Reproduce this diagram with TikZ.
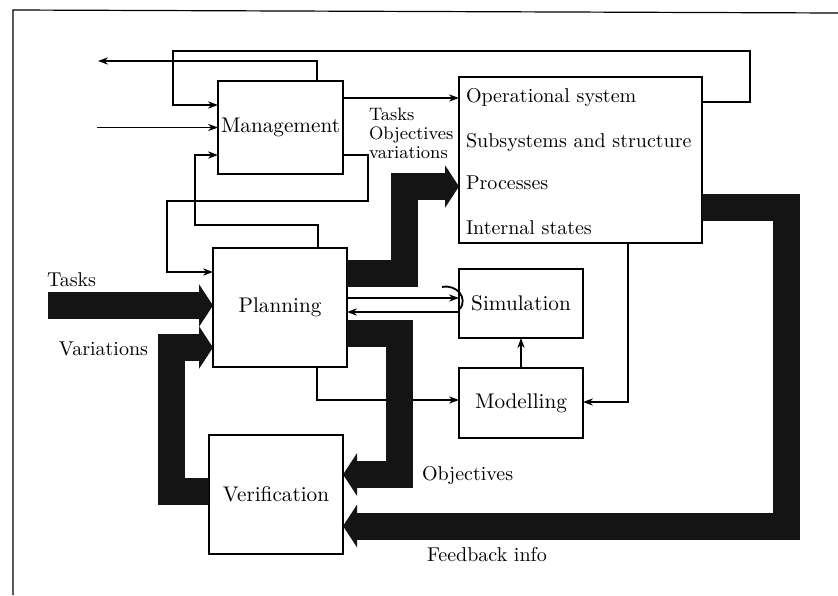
\documentclass[tikz,border=0pt]{standalone}
\usetikzlibrary{arrows.meta,calc}
\tikzset{
  box/.style={draw, line width=0.6pt, inner sep=0pt, outer sep=0pt,
    font=\fontsize{10.6}{12.7}\selectfont},
  wire/.style={line width=0.6pt},
  arr/.style={wire, -{Stealth[length=5pt,width=3.6pt]}},
  fatarrow/.style={line width=13.5pt, draw=black!92, line join=miter,
    -{Triangle[length=7pt,width=21pt]}},
  lbl/.style={inner sep=0pt, outer sep=0pt},
}
\begin{document}
\begin{tikzpicture}[x=0.5pt,y=-0.5pt]
\useasboundingbox (0,0) rectangle (838,595);
% frame of the page
\draw[wire] (13,595) -- (13,10) -- (838,13);

% blocks
\node[box, minimum width=62.5pt, minimum height=46.5pt] (mgmt) at (280.5,127.5) {Management};
\node[box, minimum width=67pt, minimum height=59.5pt] (plan) at (280,307.5) {Planning};
\node[box, minimum width=67pt, minimum height=59.5pt] (verif) at (276,494.5) {Verification};
\node[box, minimum width=121.5pt, minimum height=83pt] (ops) at (580.5,160) {};
\node[box, minimum width=62pt, minimum height=34.5pt] (sim) at (521,303.5) {Simulation};
\node[box, minimum width=62pt, minimum height=35pt] (model) at (521,403) {Modelling};

\node[lbl, anchor=west] (ops1) at ($(ops.north west)+(7,20)$) {Operational system};
\node[lbl, anchor=west] (ops2) at ($(ops.north west)+(7,65)$) {Subsystems and structure};
\node[lbl, anchor=west] (ops3) at ($(ops.north west)+(7,106)$) {Processes};
\node[lbl, anchor=west] (ops4) at ($(ops.north west)+(7,151)$) {Internal states};

% free ends
\coordinate (mgmtOut) at (98,61);
\coordinate (mgmtIn) at (97,127.5);
\coordinate (topL) at (173,51);
\coordinate (loopA) at (167,201);
\coordinate (loopB) at (195,225);
\coordinate (tasksIn) at (48,305.5);
\coordinate (hookA) at (442,287);
\coordinate (hookB) at (460,309);

% thin connectors
\draw[arr] ($(ops.east)+(0,-58)$) -- ++(48,0) |- (topL) |- ($(mgmt.west)+(0,-22.5)$);
\draw[arr] ($(mgmt.north)+(36.5,0)$) |- (mgmtOut);
\draw[arr] (mgmtIn) -- (mgmt.west);
\draw[arr] ($(mgmt.east)+(0,27.5)$) -- ++(25,0) |- (loopA) |- ($(plan.west)+(0,-35.5)$);
\draw[arr] ($(plan.north)+(38,0)$) |- (loopB) |- ($(mgmt.west)+(0,27.5)$);
\draw[arr] ($(mgmt.east)+(0,-29.5)$) -- ($(ops.west)+(0,-62)$);
\draw[arr] ($(plan.east)+(0,-9.5)$) -- ($(sim.west)+(0,-5.5)$);
\draw[arr] ($(sim.west)+(0,8.5)$) -- ($(plan.east)+(0,4.5)$);
\draw[wire, line width=0.9pt] (hookA) .. controls (457,284) and (468,298) .. (hookB);
\draw[arr] ($(plan.south)+(37,0)$) |- ($(model.west)+(0,-3)$);
\draw[arr] (model.north) -- (sim.south);
\draw[arr] ($(ops.south)+(47.5,0)$) |- ($(model.east)+(0,-1)$);

% broad flows
\draw[fatarrow] (tasksIn) -- ($(plan.west)+(0,-2)$);
\draw[fatarrow] ($(verif.west)+(0,-3)$) -- ++(-38,0) |- ($(plan.west)+(0,40)$);
\draw[fatarrow] ($(plan.north east)+(0,25)$) -- ++(57,0) |- ($(ops.west)+(0,26.5)$);
\draw[fatarrow] ($(plan.east)+(0,26)$) -- ++(52,0) |- ($(verif.east)+(0,-20)$);
\draw[fatarrow] ($(ops.east)+(0,47.5)$) -- ++(84,0) |- ($(verif.east)+(0,31.5)$);

% labels
\node[lbl, anchor=north west, align=left, font=\small] (tov) at (369,108)
  {Tasks\\[-1.5pt]Objectives\\[-1.5pt]variations};
\node[lbl, anchor=west] (tasks) at (47,280) {Tasks};
\node[lbl, anchor=east] (vars) at (148,349) {Variations};
\node[lbl, anchor=west] (objs) at (422,475) {Objectives};
\node[lbl, anchor=west] (fb) at (427,555) {Feedback info};
\end{tikzpicture}
\end{document}
